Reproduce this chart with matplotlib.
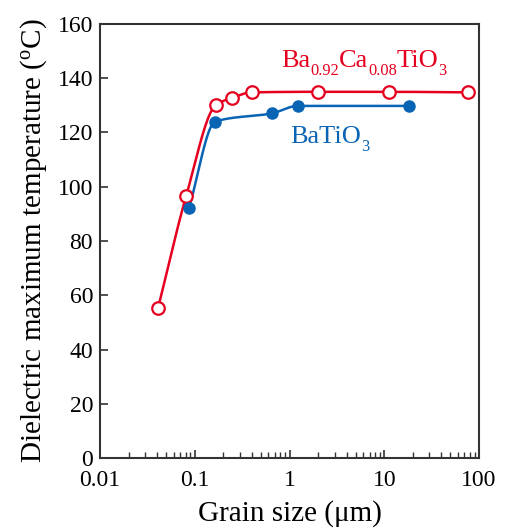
import numpy as np
import matplotlib
matplotlib.use("Agg")
import matplotlib.pyplot as plt
from matplotlib.ticker import LogLocator, FixedLocator, NullFormatter
from matplotlib.transforms import offset_copy

plt.rcParams['font.family'] = ['Liberation Serif', 'DejaVu Serif']
plt.rcParams['mathtext.fontset'] = 'custom'
plt.rcParams['mathtext.rm'] = 'Liberation Serif'
plt.rcParams['mathtext.it'] = 'Liberation Serif:italic'

# Data
bct_x = [0.041, 0.081, 0.166, 0.247, 0.40, 2.0, 11.3, 76.5]
bct_y = [55.3, 96.5, 130.0, 132.8, 134.8, 135.0, 135.0, 134.8]
bt_x = [0.087, 0.164, 0.66, 1.22, 18.1]
bt_y = [92.2, 124.0, 127.1, 129.8, 129.8]

x_ticks = [0.01, 0.1, 1, 10, 100]
x_ticklabels = ['0.01', '0.1', '1', '10', '100']

red = '#E60020'
blue = '#0A64B4'

def pchip(x, y, n=40):
    x = np.log10(np.asarray(x, float)); y = np.asarray(y, float)
    h = np.diff(x); d = np.diff(y) / h
    m = np.zeros_like(y)
    m[0] = d[0]; m[-1] = d[-1]
    for i in range(1, len(y) - 1):
        if d[i-1] * d[i] <= 0:
            m[i] = 0
        else:
            w1 = 2*h[i] + h[i-1]; w2 = h[i] + 2*h[i-1]
            m[i] = (w1 + w2) / (w1/d[i-1] + w2/d[i])
    xs, ys = [], []
    for i in range(len(h)):
        t = np.linspace(0, 1, n)
        h00 = 2*t**3 - 3*t**2 + 1; h10 = t**3 - 2*t**2 + t
        h01 = -2*t**3 + 3*t**2; h11 = t**3 - t**2
        xs.append(x[i] + t*h[i])
        ys.append(h00*y[i] + h10*h[i]*m[i] + h01*y[i+1] + h11*h[i]*m[i+1])
    return 10**np.concatenate(xs), np.concatenate(ys)

fig = plt.figure(figsize=(5.07, 5.30), dpi=100)
ax = fig.add_axes([100/507, 72/530, 379/507, 434/530])

sx, sy = pchip(bct_x, bct_y)
ax.plot(sx, sy, color=red, lw=1.8, zorder=2)
ax.plot(bct_x, bct_y, 'o', mfc='white', mec=red, mew=1.6, ms=9, ls='none', zorder=3)
sx, sy = pchip(bt_x, bt_y)
ax.plot(sx, sy, color=blue, lw=1.8, zorder=2)
ax.plot(bt_x, bt_y, 'o', color=blue, ms=8, ls='none', zorder=3)

ax.set_xscale('log')
ax.set_xlim(0.01, 100)
ax.set_ylim(0, 160)
ax.set_yticks(np.arange(0, 161, 20))
ax.xaxis.set_major_locator(FixedLocator(x_ticks))
ax.set_xticklabels(x_ticklabels)
ax.xaxis.set_minor_locator(LogLocator(base=10, subs=np.arange(2, 10)))
ax.xaxis.set_minor_formatter(NullFormatter())
ax.tick_params(axis='both', which='major', direction='in', length=6, width=1.2,
               labelsize=17, color='#333333', pad=5)
ax.tick_params(axis='x', which='major', pad=9)
ax.tick_params(axis='x', which='minor', direction='in', length=4, width=1.0, color='#333333')
for s in ax.spines.values():
    s.set_linewidth(1.5)
    s.set_color('#333333')

ax.set_xlabel('Grain size (μm)', fontsize=21, labelpad=6)
ax.set_ylabel(r'Dielectric maximum temperature ($^{\mathrm{o}}$C)', fontsize=21, labelpad=6)

def rich(x, y, parts, color, size):
    renderer = fig.canvas.get_renderer()
    xoff = 0.0
    for s, sub in parts:
        fs = size * 0.62 if sub else size
        dy = -size * 0.3 if sub else 0
        tr = offset_copy(ax.transData, fig=fig, x=xoff, y=dy, units='points')
        t = ax.text(x, y, s, transform=tr, fontsize=fs, color=color,
                    va='baseline', ha='left')
        bb = t.get_window_extent(renderer)
        xoff += bb.width * 72.0 / fig.dpi

rich(0.81, 144, [('Ba', False), ('0.92', True), ('Ca', False), ('0.08', True),
                 ('TiO', False), ('3', True)], red, 19)
rich(1.01, 116, [('BaTiO', False), ('3', True)], blue, 19)

fig.savefig('out.png', dpi=100)
